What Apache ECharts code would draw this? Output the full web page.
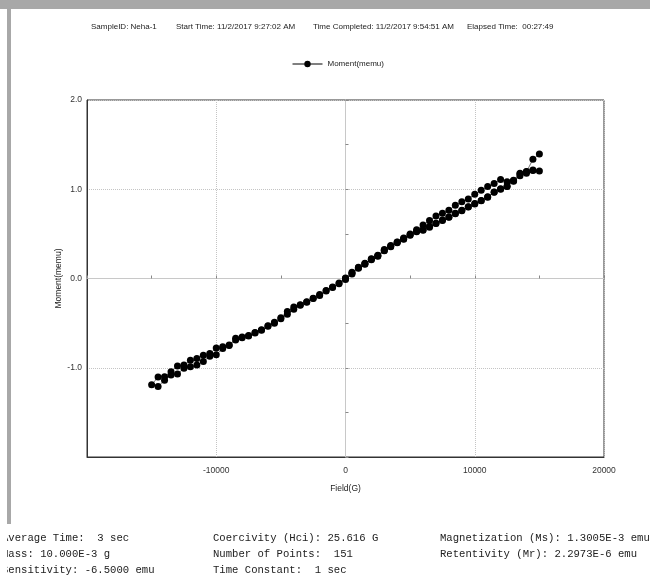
<!DOCTYPE html>
<html>
<head>
<meta charset="utf-8">
<script src="https://cdn.jsdelivr.net/npm/echarts@6/dist/echarts.min.js"></script>
<style>
html,body{margin:0;padding:0;background:#fff;}
#chart{width:650px;height:588px;}
</style>
</head>
<body>
<div id="chart"></div>
<script>
// ---- Data ----
// Initial (virgin) branch: 0 -> 15000 G
const virginField = [0,500,1000,1500,2000,2500,3000,3500,4000,4500,5000,5500,6000,6500,7000,7500,8000,8500,9000,9500,10000,10500,11000,11500,12000,12500,13000,13500,14000,14500,15000];
const virginMoment = [0.0,0.06,0.12,0.165,0.215,0.255,0.315,0.36,0.405,0.445,0.49,0.53,0.545,0.585,0.62,0.655,0.69,0.73,0.765,0.805,0.84,0.87,0.91,0.965,1.0,1.03,1.09,1.15,1.18,1.21,1.205];
// Descending branch: 14500 -> -15000 G
const descField = [14500,14000,13500,13000,12500,12000,11500,11000,10500,10000,9500,9000,8500,8000,7500,7000,6500,6000,5500,5000,4500,4000,3500,3000,2500,2000,1500,1000,500,0,-500,-1000,-1500,-2000,-2500,-3000,-3500,-4000,-4500,-5000,-5500,-6000,-6500,-7000,-7500,-8000,-8500,-9000,-9500,-10000,-10500,-11000,-11500,-12000,-12500,-13000,-13500,-14000,-14500,-15000];
const descMoment = [1.215,1.2,1.18,1.1,1.085,1.11,1.065,1.03,0.99,0.945,0.89,0.86,0.82,0.765,0.73,0.70,0.65,0.60,0.545,0.5,0.455,0.41,0.37,0.325,0.26,0.22,0.17,0.125,0.07,0.005,-0.05,-0.095,-0.135,-0.18,-0.22,-0.26,-0.295,-0.32,-0.37,-0.44,-0.49,-0.53,-0.575,-0.605,-0.64,-0.655,-0.67,-0.745,-0.765,-0.78,-0.84,-0.86,-0.895,-0.915,-0.97,-0.98,-1.045,-1.10,-1.105,-1.19];
// Ascending branch: -14500 -> 15000 G
const ascField = [-14500,-14000,-13500,-13000,-12500,-12000,-11500,-11000,-10500,-10000,-9500,-9000,-8500,-8000,-7500,-7000,-6500,-6000,-5500,-5000,-4500,-4000,-3500,-3000,-2500,-2000,-1500,-1000,-500,0,500,1000,1500,2000,2500,3000,3500,4000,4500,5000,5500,6000,6500,7000,7500,8000,8500,9000,9500,10000,10500,11000,11500,12000,12500,13000,13500,14000,14500,15000];
const ascMoment = [-1.21,-1.14,-1.08,-1.07,-1.005,-0.99,-0.97,-0.93,-0.87,-0.855,-0.785,-0.75,-0.69,-0.665,-0.645,-0.61,-0.58,-0.535,-0.5,-0.45,-0.40,-0.345,-0.30,-0.265,-0.225,-0.19,-0.14,-0.1,-0.058,-0.01,0.05,0.115,0.16,0.21,0.25,0.31,0.355,0.40,0.44,0.485,0.525,0.54,0.575,0.615,0.65,0.685,0.725,0.76,0.80,0.835,0.875,0.915,0.97,1.005,1.035,1.095,1.17,1.195,1.335,1.395];

const seriesName = 'Moment(memu)';
const xTickLabels = ['', '-10000', '0', '10000', '20000'];   // -20000 .. 20000
const yTickLabels = ['', '-1.0', '0.0', '1.0', '2.0'];        // -2 .. 2

const titleParts = [
  'SampleID: Neha-1',
  'Start Time: 11/2/2017 9:27:02 AM',
  'Time Completed: 11/2/2017 9:54:51 AM',
  'Elapsed Time:  00:27:49'
];
const infoCol1 = ['Average Time:  3 sec', 'Mass: 10.000E-3 g', 'Sensitivity: -6.5000 emu'];
const infoCol2 = ['Coercivity (Hci): 25.616 G', 'Number of Points:  151', 'Time Constant:  1 sec'];
const infoCol3 = ['Magnetization (Ms): 1.3005E-3 emu', 'Retentivity (Mr): 2.2973E-6 emu'];

// ---- Build ----
const points = [];
virginField.forEach((f, i) => points.push([f, virginMoment[i]]));
descField.forEach((f, i) => points.push([f, descMoment[i]]));
ascField.forEach((f, i) => points.push([f, ascMoment[i]]));

const chart = echarts.init(document.getElementById('chart'), null, {renderer: 'canvas'});
const sans = 'Liberation Sans, Arial, sans-serif';
const mono = 'Liberation Mono, Courier New, monospace';

const graphics = [];
const titleX = [91, 176, 313, 467];
titleParts.forEach((t, i) => graphics.push({
  type: 'text', left: titleX[i], top: 23,
  style: {text: t, font: '8px ' + sans, fill: '#222'}
}));
const rowsY = [533, 549, 565];
const colX = [2, 213, 440];
[infoCol1, infoCol2, infoCol3].forEach((col, c) => col.forEach((t, r) => graphics.push({
  type: 'text', x: colX[c], y: rowsY[r],
  style: {text: t, font: '10.6px ' + mono, fill: '#222', textBaseline: 'top'}
})));
graphics.push(
  {type: 'rect', shape: {x: 0, y: 0, width: 7, height: 588}, style: {fill: '#fff'}, silent: true, z: 10},
  {type: 'rect', shape: {x: 0, y: 0, width: 650, height: 9}, style: {fill: '#a8a8a8'}, silent: true, z: 10},
  {type: 'rect', shape: {x: 7, y: 9, width: 4, height: 515}, style: {fill: '#a8a8a8'}, silent: true, z: 10}
);

chart.setOption({
  animation: false,
  backgroundColor: '#fff',
  legend: {
    data: [{name: seriesName, lineStyle: {color: '#000', width: 1}, itemStyle: {color: '#000'}}],
    left: 287, top: 55, itemWidth: 30, itemHeight: 8, itemGap: 8,
    textStyle: {fontSize: 8, fontFamily: sans, color: '#222'}
  },
  grid: {left: 87, top: 100, width: 517, height: 357, show: true, borderColor: '#333', borderWidth: 1, backgroundColor: 'transparent'},
  xAxis: [{
    type: 'value', min: -20000, max: 20000, interval: 10000, position: 'bottom',
    axisLine: {onZero: false, lineStyle: {color: '#333', width: 1}},
    axisTick: {show: false},
    axisLabel: {fontSize: 8.5, fontFamily: sans, color: '#333', margin: 9,
      formatter: v => xTickLabels[Math.round((v + 20000) / 10000)]},
    splitLine: {show: true, lineStyle: {type: 'dotted', color: '#c4c4c4', width: 1}},
    name: 'Field(G)', nameLocation: 'middle', nameGap: 27, nameMoveOverlap: false,
    nameTextStyle: {fontSize: 8.5, fontFamily: sans, color: '#222'}
  }, {
    type: 'value', min: -20000, max: 20000, interval: 5000, position: 'top',
    axisLine: {show: true, onZero: true, onZeroAxisIndex: 0, lineStyle: {color: '#c8c8c8', width: 1}},
    axisTick: {show: true, length: 3, lineStyle: {color: '#888'}},
    axisLabel: {show: false}, splitLine: {show: false}
  }],
  yAxis: [{
    type: 'value', min: -2, max: 2, interval: 1, position: 'left',
    axisLine: {onZero: false, lineStyle: {color: '#333', width: 1}},
    axisTick: {show: false},
    axisLabel: {fontSize: 8.5, fontFamily: sans, color: '#333', margin: 5,
      formatter: v => yTickLabels[Math.round(v + 2)]},
    splitLine: {show: true, lineStyle: {type: 'dotted', color: '#c4c4c4', width: 1}},
    name: 'Moment(memu)', nameLocation: 'middle', nameGap: 24, nameRotate: 90, nameMoveOverlap: false,
    nameTextStyle: {fontSize: 8.5, fontFamily: sans, color: '#222'}
  }, {
    type: 'value', min: -2, max: 2, interval: 0.5, position: 'right',
    axisLine: {show: true, onZero: true, onZeroAxisIndex: 0, lineStyle: {color: '#c8c8c8', width: 1}},
    axisTick: {show: true, length: 3, lineStyle: {color: '#888'}},
    axisLabel: {show: false}, splitLine: {show: false}
  }],
  series: [{
    name: seriesName, type: 'line', xAxisIndex: 0, yAxisIndex: 0,
    data: points, symbol: 'circle', symbolSize: 7, showAllSymbol: true,
    itemStyle: {color: '#000'}, lineStyle: {color: '#777', width: 1},
    emphasis: {disabled: true}
  }],
  graphic: graphics
});
</script>
</body>
</html>
